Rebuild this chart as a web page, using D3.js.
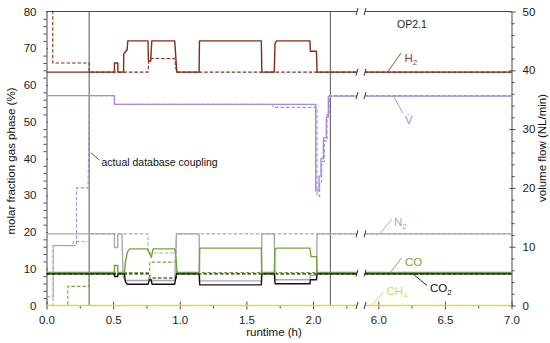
<!DOCTYPE html>
<html>
<head>
<meta charset="utf-8">
<script src="https://cdn.jsdelivr.net/npm/d3@7"></script>
<style>
body { margin: 0; background: #fff; }
svg { font-family: "Liberation Sans", Arial, sans-serif; }
</style>
</head>
<body>
<svg id="chart" width="550" height="343"></svg>
<script>
"use strict";
/*
 * Runtime (h) / value pairs. A step is written as two
 * points with the same runtime. Solid = measured, dashed = simulated.
 * Gas fractions in %, volume flow in NL/min.
 */
const h2Meas = [[0,63.5],[0.51,63.5],[0.51,66],[0.535,66],[0.535,63.5],[0.578,63.5],[0.58,68.5],[0.605,69.5],[0.61,72],
    [0.762,72],[0.765,66.5],[0.782,66.5],[0.79,72],[0.962,72],[0.978,63.5],[1.145,63.5],[1.148,72],[1.612,72],[1.616,63.5],
    [1.709,63.5],[1.715,71.3],[1.727,72],[1.977,72],[1.98,69.2],[2.026,69.2],[2.03,63.5],[2.33,63.5],[5.9,63.5],[7,63.5]];
const h2Sim = [[0,80],[0.047,80],[0.047,66],[0.32,66],[0.32,63.5],[0.762,63.5],[0.768,66.5],[0.78,67.2],[0.962,67.2],
    [0.975,63.5],[2.33,63.5],[5.9,63.5],[7,63.5]];

const flowMeas = [[0,35.7],[0.51,35.7],[0.51,34.2],[2.02,34.2],[2.02,19.5],[2.045,19.5],[2.045,22],[2.06,22],[2.06,25],
    [2.078,25],[2.078,28.5],[2.1,28.5],[2.1,32],[2.115,32],[2.115,35.6],[2.33,35.6],[5.9,35.6],[7,35.6]];
const flowSim = [[0,1.5],[0.05,1.5],[0.05,10.2],[0.225,10.2],[0.225,20],[0.312,20],[0.322,35.7],[0.51,35.7],[0.51,34.2],
    [1.7,34.2],[1.7,33.7],[2.03,33.7],[2.03,18.6],[2.05,18.6],[2.05,21],[2.065,21],[2.065,24.5],[2.085,24.5],[2.085,28],
    [2.105,28],[2.105,32.5],[2.12,32.5],[2.125,35.7],[2.33,35.7],[5.9,35.7],[7,35.7]];

const n2Meas = [[0,19.5],[0.51,19.5],[0.51,15.8],[0.535,15.8],[0.535,19.5],[0.566,19.5],[0.575,7.8],[0.59,6.8],[0.762,6.8],
    [0.772,7.8],[0.787,6.8],[0.962,6.8],[0.975,19.5],[1.145,19.5],[1.15,6.7],[1.612,6.7],[1.616,19.5],[1.709,19.5],
    [1.716,7.0],[1.977,7.0],[1.98,8.2],[2.028,8.2],[2.03,19.5],[2.33,19.5],[5.9,19.5],[7,19.5]];
const n2Sim = [[0,0],[0.05,0],[0.05,16.3],[0.2,16.3],[0.2,17.4],[0.32,17.4],[0.32,19.5],[0.762,19.5],[0.762,14.3],
    [0.975,14.3],[0.975,19.5],[2.33,19.5],[5.9,19.5],[7,19.5]];

const coMeas = [[0,9],[0.51,9],[0.51,10.9],[0.535,10.9],[0.535,9],[0.585,9],[0.593,12],[0.607,14.5],[0.624,15.4],[0.757,15.4],
    [0.787,13.1],[0.8,15.4],[0.962,15.4],[0.972,13],[0.98,9],[1.145,9],[1.15,15.6],[1.612,15.6],[1.616,9],[1.709,9],
    [1.715,15.2],[1.727,15.6],[1.977,15.6],[1.985,13.3],[2.026,13.3],[2.03,9],[2.33,9],[5.9,9],[7,9]];
const coSim = [[0,0],[0.16,0],[0.16,5.2],[0.32,5.2],[0.32,9],[0.775,9],[0.775,11.8],[0.975,11.8],[0.975,9],[2.33,9],
    [5.9,9],[7,9]];

const co2Meas = [[0,8.6],[0.51,8.6],[0.51,7.9],[0.535,7.9],[0.535,8.6],[0.585,8.6],[0.592,6.5],[0.605,5.8],[0.762,5.8],
    [0.772,7],[0.785,7],[0.792,5.8],[0.962,5.8],[0.975,8.6],[1.145,8.6],[1.15,5.6],[1.612,5.6],[1.616,8.6],[1.709,8.6],
    [1.716,5.9],[1.977,5.9],[1.98,7],[2.026,7],[2.03,8.6],[2.33,8.6],[5.9,8.6],[7,8.6]];
const co2Sim = [[0,8.6],[0.775,8.6],[0.775,7.5],[0.975,7.5],[0.975,8.6],[2.33,8.6],[5.9,8.6],[7,8.6]];

const ch4Meas = [[0,0],[2.33,0],[5.9,0],[7,0]];

// axis ticks and markers
const xMajorA = [0, 0.5, 1, 1.5, 2];
const xMinorA = [0.25, 0.75, 1.25, 1.75, 2.25];
const xMajorB = [6, 6.5, 7];
const xMinorB = [6.25, 6.75];
const yMajorL = d3.range(0, 81, 10);
const yMajorR = d3.range(0, 51, 10);
const couplingTimes = [0.32, 2.13];

const svg = d3.select("#chart");
const plotTop = 11.5, plotBottom = 305.5;
const xA = d3.scaleLinear().domain([0, 2.33]).range([46.5, 357]);
const xB = d3.scaleLinear().domain([5.9, 7.0]).range([365, 511.5]);
const yL = d3.scaleLinear().domain([0, 80]).range([plotBottom, plotTop]);
const yR = d3.scaleLinear().domain([0, 50]).range([plotBottom, plotTop]);
const axisColor = "#4a4a4a";

// frame: top and bottom lines broken between the two time ranges
[[xA, plotTop], [xB, plotTop], [xA, plotBottom], [xB, plotBottom]].forEach(([x, y]) => {
    svg.append("line")
        .attr("x1", x.range()[0]).attr("x2", x.range()[1])
        .attr("y1", y).attr("y2", y)
        .attr("stroke", axisColor).attr("stroke-width", 1);
});

// y axes
const fmtTick = g => {
    g.select(".domain").attr("stroke", axisColor);
    g.selectAll(".tick line").attr("stroke", axisColor);
    g.selectAll("text").attr("fill", "#222").style("font-size", "11.5px")
        .style("font-family", '"Liberation Sans", Arial, sans-serif');
};
svg.append("g").attr("transform", `translate(${xA.range()[0]},0)`)
    .call(d3.axisLeft(yL).tickValues(yMajorL).tickSize(6).tickSizeOuter(0).tickPadding(4).tickFormat(d3.format("d")))
    .call(fmtTick)
    .call(g => g.selectAll(".tick line").attr("x2", 1.5));
svg.append("g").attr("transform", `translate(${xA.range()[0]},0)`)
    .call(d3.axisLeft(yL).tickValues(d3.range(0, 81, 2).filter(v => v % 10)).tickSize(3).tickFormat(""))
    .call(fmtTick)
    .call(g => g.select(".domain").remove());

svg.append("g").attr("transform", `translate(${xB.range()[1]},0)`)
    .call(d3.axisRight(yR).tickValues(yMajorR).tickSize(4).tickSizeOuter(0).tickPadding(7).tickFormat(d3.format("d")))
    .call(fmtTick)
    .call(g => g.selectAll(".tick line").attr("x1", -2));
svg.append("g").attr("transform", `translate(${xB.range()[1]},0)`)
    .call(d3.axisRight(yR).tickValues(d3.range(0, 51, 2).filter(v => v % 10)).tickSize(3).tickFormat(""))
    .call(fmtTick)
    .call(g => g.select(".domain").remove());

// x axes (two ranges)
[[xA, xMajorA, xMinorA], [xB, xMajorB, xMinorB]].forEach(([x, major, minor]) => {
    svg.append("g").attr("transform", `translate(0,${plotBottom})`)
        .call(d3.axisBottom(x).tickValues(major).tickSize(4).tickSizeOuter(0).tickPadding(6.5).tickFormat(d3.format(".1f")))
        .call(fmtTick)
        .call(g => g.select(".domain").remove())
        .call(g => g.selectAll(".tick line").attr("y1", -4));
    svg.append("g").attr("transform", `translate(0,${plotBottom})`)
        .call(d3.axisBottom(x).tickValues(minor).tickSize(3).tickFormat(""))
        .call(fmtTick)
        .call(g => g.select(".domain").remove());
});

// coupling markers
couplingTimes.forEach(t => {
    svg.append("line")
        .attr("x1", xA(t)).attr("x2", xA(t))
        .attr("y1", plotTop).attr("y2", plotBottom)
        .attr("stroke", "#555").attr("stroke-width", 1);
});

// series
const series = [
    {meas: n2Meas, sim: n2Sim, color: "#a9a9a9", y: yL},
    {meas: flowMeas, sim: flowSim, color: "#a48bdb", y: yR},
    {meas: h2Meas, sim: h2Sim, color: "#842d14", y: yL},
    {meas: coMeas, sim: coSim, color: "#74a53c", y: yL},
    {meas: co2Meas, sim: co2Sim, color: "#141414", y: yL},
    {meas: ch4Meas, sim: ch4Meas, color: "#e3d548", y: yL}
];

const drawLine = function(pts, y, color, dashed) {
    [[xA, pts.filter(d => d[0] <= 2.33)], [xB, pts.filter(d => d[0] >= 5.9)]].forEach(([x, part]) => {
        svg.append("path")
            .datum(part)
            .attr("d", d3.line().x(d => x(d[0])).y(d => y(d[1])))
            .attr("fill", "none")
            .attr("stroke", color)
            .attr("stroke-width", dashed ? 1.1 : 1.4)
            .attr("stroke-dasharray", dashed ? "3.5,2" : null)
            .attr("stroke-linejoin", "round");
    });
};
series.forEach(s => drawLine(s.sim, s.y, s.color, true));
series.forEach(s => drawLine(s.meas, s.y, s.color, false));

// break marks at each line level and at the frame
const breakLevels = [plotTop, plotBottom, yL(63.5), yR(35.7), yL(19.5), yL(8.8)];
breakLevels.forEach(y => {
    [xA.range()[1], xB.range()[0]].forEach(x => {
        svg.append("line")
            .attr("x1", x - 1).attr("x2", x + 1)
            .attr("y1", y + 3.5).attr("y2", y - 3.5)
            .attr("stroke", "#333").attr("stroke-width", 1);
    });
});

// annotation
svg.append("line")
    .attr("x1", xA(0.332)).attr("y1", yL(41.6))
    .attr("x2", xA(0.396)).attr("y2", yL(39.6))
    .attr("stroke", "#333").attr("stroke-width", 0.8);
svg.append("text")
    .attr("x", xA(0.413)).attr("y", yL(38))
    .style("font-size", "10.5px").attr("fill", "#111")
    .text("actual database coupling");

svg.append("text")
    .attr("x", 397).attr("y", 28)
    .style("font-size", "10.5px").attr("fill", "#222")
    .text("OP2.1");

// series labels with leader lines
const labels = [
    {main: "H", sub: "2", color: "#93402a", from: [xB(6.07), yL(63.5)], to: [401, 53], tx: 404.5, ty: 62},
    {main: "V\u0307", sub: "", color: "#a48bdb", from: [xB(6.11), yR(35.7)], to: [403, 113], tx: 405, ty: 124},
    {main: "N", sub: "2", color: "#a9a9a9", from: [xB(6.01), yL(19.5)], to: [392, 219], tx: 394, ty: 226},
    {main: "CO", sub: "", color: "#74a53c", from: [xB(6.09), yL(9)], to: [401.5, 258], tx: 405, ty: 266},
    {main: "CO", sub: "2", color: "#111", from: [xB(6.26), yL(8.6)], to: [427, 285.5], tx: 430, ty: 292},
    {main: "CH", sub: "4", color: "#e3d548", from: [xB(5.95), yL(0)], to: [383.5, 292], tx: 386.5, ty: 295}
];
labels.forEach(l => {
    svg.append("line")
        .attr("x1", l.from[0]).attr("y1", l.from[1])
        .attr("x2", l.to[0]).attr("y2", l.to[1])
        .attr("stroke", l.color).attr("stroke-width", 0.9);
    const t = svg.append("text")
        .attr("x", l.tx).attr("y", l.ty)
        .style("font-size", "11.5px").attr("fill", l.color);
    t.append("tspan").text(l.main);
    if (l.sub) t.append("tspan").attr("dy", 3).style("font-size", "8px").text(l.sub);
});

// axis titles
svg.append("text")
    .attr("transform", "translate(15,161) rotate(-90)")
    .attr("text-anchor", "middle")
    .style("font-size", "11.5px").attr("fill", "#111")
    .text("molar fraction gas phase (%)");
svg.append("text")
    .attr("transform", "translate(546,148) rotate(-90)")
    .attr("text-anchor", "middle")
    .style("font-size", "11.5px").attr("fill", "#111")
    .text("volume flow (NL/min)");
svg.append("text")
    .attr("x", 274).attr("y", 336)
    .attr("text-anchor", "middle")
    .style("font-size", "11.5px").attr("fill", "#111")
    .text("runtime (h)");
</script>
</body>
</html>
